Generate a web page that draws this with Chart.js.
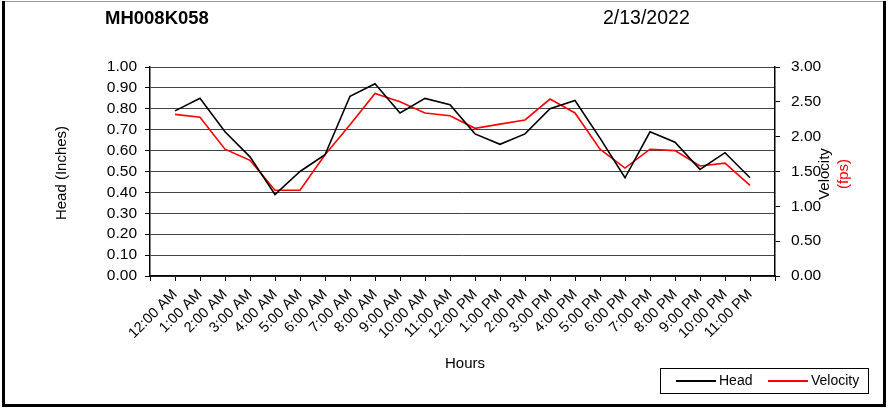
<!DOCTYPE html>
<html>
<head>
<meta charset="utf-8">
<script src="https://cdn.jsdelivr.net/npm/chart.js@4"></script>
<style>
  html, body { margin: 0; padding: 0; background: #fff; }
  #wrap { width: 895px; height: 409px; }
</style>
</head>
<body>
<div id="wrap"><canvas id="chart" width="895" height="409"></canvas></div>
<script>
const siteName = 'MH008K058';
const reportDate = '2/13/2022';

const hours = ['12:00 AM', '1:00 AM', '2:00 AM', '3:00 AM', '4:00 AM', '5:00 AM',
    '6:00 AM', '7:00 AM', '8:00 AM', '9:00 AM', '10:00 AM', '11:00 AM',
    '12:00 PM', '1:00 PM', '2:00 PM', '3:00 PM', '4:00 PM', '5:00 PM',
    '6:00 PM', '7:00 PM', '8:00 PM', '9:00 PM', '10:00 PM', '11:00 PM'];

// Head in inches (left axis)
const head = [0.79, 0.85, 0.69, 0.57, 0.39, 0.50, 0.58, 0.86, 0.92, 0.78, 0.85, 0.82,
    0.68, 0.63, 0.68, 0.80, 0.84, 0.66, 0.47, 0.69, 0.64, 0.51, 0.59, 0.47];

// Velocity in fps (right axis)
const velocity = [2.32, 2.28, 1.82, 1.66, 1.23, 1.23, 1.74, 2.17, 2.62, 2.50, 2.34, 2.30,
    2.12, 2.18, 2.24, 2.54, 2.34, 1.82, 1.55, 1.82, 1.80, 1.58, 1.62, 1.30];

const FONT = "'Liberation Sans', Arial, sans-serif";

// empty slot at each end so the points sit one step in from the axes
const xLabels = ['', ...hours, ''];
const pad = arr => [null, ...arr, null];

const decorations = {
    id: 'decorations',
    beforeDraw(chart) {
        const ctx = chart.ctx;
        ctx.save();
        ctx.fillStyle = '#fff';
        ctx.fillRect(0, 0, chart.width, chart.height);
        ctx.restore();
    },
    afterDraw(chart) {
        const ctx = chart.ctx;
        ctx.save();

        // header texts
        ctx.fillStyle = '#000';
        ctx.textBaseline = 'alphabetic';
        ctx.textAlign = 'left';
        ctx.font = `bold 18.5px ${FONT}`;
        ctx.fillText(siteName, 105, 24);
        ctx.font = `19.5px ${FONT}`;
        ctx.fillText(reportDate, 603, 24);

        // axis titles
        ctx.textAlign = 'center';
        ctx.textBaseline = 'middle';
        ctx.font = `15px ${FONT}`;
        ctx.fillText('Hours', 465, 364);

        ctx.save();
        ctx.translate(62, 173);
        ctx.rotate(-Math.PI / 2);
        ctx.fillText('Head (Inches)', 0, 0);
        ctx.restore();

        ctx.save();
        ctx.translate(825, 174);
        ctx.rotate(-Math.PI / 2);
        ctx.fillText('Velocity', 0, 0);
        ctx.fillStyle = '#f00';
        ctx.fillText('(fps)', 0, 19);
        ctx.restore();

        // legend
        ctx.strokeStyle = '#000';
        ctx.lineWidth = 1;
        ctx.strokeRect(660.5, 368.5, 208, 25);
        ctx.font = `14px ${FONT}`;
        ctx.textAlign = 'left';
        const items = chart.data.datasets;
        const xs = [676, 768];
        items.forEach((ds, i) => {
            ctx.strokeStyle = ds.borderColor;
            ctx.lineWidth = 2;
            ctx.beginPath();
            ctx.moveTo(xs[i], 381);
            ctx.lineTo(xs[i] + 40, 381);
            ctx.stroke();
            ctx.fillStyle = '#000';
            ctx.fillText(ds.label, xs[i] + 43, 381);
        });

        // outer frame
        ctx.strokeStyle = '#999';
        ctx.lineWidth = 1;
        ctx.beginPath();
        ctx.moveTo(3, 1.5);
        ctx.lineTo(885, 1.5);
        ctx.stroke();
        ctx.strokeStyle = '#000';
        ctx.lineWidth = 3;
        ctx.beginPath();
        ctx.moveTo(3.5, 1);
        ctx.lineTo(3.5, 405.5);
        ctx.lineTo(884.5, 405.5);
        ctx.lineTo(884.5, 1);
        ctx.stroke();

        ctx.restore();
    }
};

new Chart(document.getElementById('chart').getContext('2d'), {
    type: 'line',
    data: {
        labels: xLabels,
        datasets: [
            {
                label: 'Head',
                data: pad(head),
                yAxisID: 'y',
                borderColor: '#000',
                borderWidth: 1.6,
                pointRadius: 0,
                tension: 0
            },
            {
                label: 'Velocity',
                data: pad(velocity),
                yAxisID: 'y1',
                borderColor: '#f00',
                borderWidth: 1.6,
                pointRadius: 0,
                tension: 0
            }
        ]
    },
    options: {
        responsive: false,
        animation: false,
        devicePixelRatio: 1,
        layout: { padding: { top: 67, left: 0, right: 0, bottom: 0 } },
        plugins: {
            legend: { display: false },
            tooltip: { enabled: false }
        },
        scales: {
            x: {
                type: 'category',
                offset: false,
                afterFit: s => { s.height = 133; },
                grid: {
                    drawOnChartArea: false,
                    drawTicks: true,
                    tickLength: 5,
                    color: '#000'
                },
                border: { color: '#000', width: 1.5 },
                ticks: {
                    autoSkip: false,
                    maxRotation: 45,
                    minRotation: 45,
                    padding: 5,
                    color: '#000',
                    font: { family: FONT, size: 14.5 }
                }
            },
            y: {
                position: 'left',
                min: 0,
                max: 1,
                afterFit: s => { s.width = 150; },
                grid: {
                    color: '#444',
                    lineWidth: 1,
                    tickLength: 5,
                    tickColor: '#000'
                },
                border: { color: '#000', width: 1.5 },
                ticks: {
                    stepSize: 0.1,
                    autoSkip: false,
                    padding: 8,
                    color: '#000',
                    font: { family: FONT, size: 15.5 },
                    callback: v => v.toFixed(2)
                }
            },
            y1: {
                position: 'right',
                min: 0,
                max: 3,
                afterFit: s => { s.width = 120; },
                grid: {
                    drawOnChartArea: false,
                    tickLength: 5,
                    color: '#000'
                },
                border: { color: '#000', width: 1.5 },
                ticks: {
                    stepSize: 0.5,
                    autoSkip: false,
                    padding: 11,
                    color: '#000',
                    font: { family: FONT, size: 15.5 },
                    callback: v => v.toFixed(2)
                }
            }
        }
    },
    plugins: [decorations]
});
</script>
</body>
</html>
